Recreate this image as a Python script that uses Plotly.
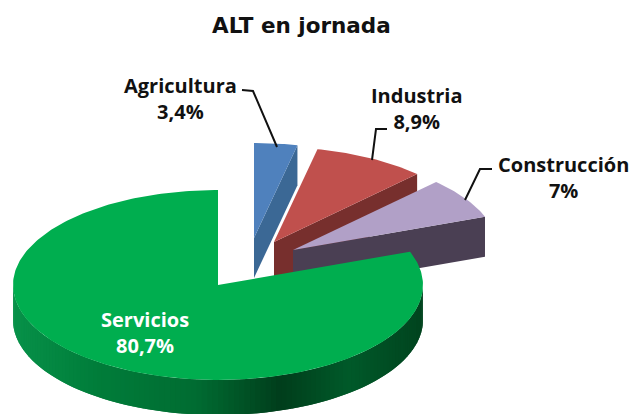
import numpy as np
import plotly.graph_objects as go

# Data
categories = ["Agricultura", "Industria", "Construcción", "Servicios"]
shares = [3.4, 8.9, 7.0, 80.7]
share_labels = ["3,4%", "8,9%", "7%", "80,7%"]
title_text = "ALT en jornada"

# Styling / layout (pixel space of the 631x414 canvas)
top_colors = ["#4F81BD", "#C0504D", "#B1A0C7", "#00AE4F"]
wall_colors = ["#3B6895", "#772F2D", "#4A3F53", "#00602C"]
apexes = [(254, 238), (274, 242), (293, 250), (218, 285)]
RX, RY = 205, 95
depths = [40, 40, 40, 35]
label_pos = [(180, 98), (416, 108), (563, 177), (145, 332)]
label_colors = ["#111111", "#111111", "#111111", "#FFFFFF"]
leaders = [
    [(242, 90), (253, 91), (277, 147)],
    [(387, 129), (376, 129), (372, 160)],
    [(492, 169), (480, 169), (465, 200)],
]
grad_x = [12, 100, 200, 283, 350, 423]
grad_rgb = np.array([[8, 146, 74], [0, 125, 58], [0, 108, 50], [0, 62, 28], [0, 90, 42], [0, 68, 31]])


def pt(apex, deg, depth=0):
    t = np.radians(deg)
    return apex[0] + RX * np.sin(t), apex[1] - RY * np.cos(t) + depth


def poly(fig, xs, ys, color, name):
    fig.add_trace(go.Scatter(x=list(xs), y=list(ys), mode="lines", fill="toself", fillcolor=color,
                             line=dict(color=color, width=0), hoverinfo="skip",
                             showlegend=False, name=name))


fig = go.Figure()
angles = np.concatenate([[0], np.cumsum(shares) * 3.6])

for i, cat in enumerate(categories):
    a0, a1 = angles[i], angles[i + 1]
    apex, d = apexes[i], depths[i]
    arc = np.linspace(a0, a1, max(24, int(a1 - a0)))
    if i < 3:
        # visible radial wall on the closing edge of the wedge
        ex, ey = pt(apex, a1)
        poly(fig, [apex[0], ex, ex, apex[0], apex[0]], [apex[1], ey, ey + d, apex[1] + d, apex[1]], wall_colors[i], cat)
    else:
        # shaded outer wall of the large wedge, drawn as overlapping strips
        front = np.linspace(90, 270, 121)
        for k in range(len(front) - 1):
            b0, b1 = front[k], front[min(k + 2, len(front) - 1)]
            xs0 = np.linspace(b0, b1, 4)
            xa, ya = pt(apex, xs0)
            xm = pt(apex, front[k])[0]
            rgb = [int(np.interp(xm, grad_x, grad_rgb[:, c])) for c in range(3)]
            poly(fig, np.r_[xa, xa[::-1], xa[0]], np.r_[ya, (ya + d)[::-1], ya[0]],
                 f"rgb({rgb[0]},{rgb[1]},{rgb[2]})", cat)
    xs, ys = pt(apex, arc)
    poly(fig, np.r_[apex[0], xs, apex[0]], np.r_[apex[1], ys, apex[1]], top_colors[i], cat)

# Leader lines
shapes = []
for pts in leaders:
    path = "M " + " L ".join(f"{x},{y}" for x, y in pts)
    shapes.append(dict(type="path", path=path, xref="x", yref="y", line=dict(color="#111111", width=2)))

# Labels
annotations = []
for i, cat in enumerate(categories):
    x, y = label_pos[i]
    annotations.append(dict(x=x, y=y, xref="x", yref="y", showarrow=False, align="center",
                            text=f"<b>{cat}</b><br><b>{share_labels[i]}</b>",
                            font=dict(family="Open Sans", size=20, color=label_colors[i])))
annotations.append(dict(x=301, y=25, xref="x", yref="y", showarrow=False,
                        text=f"<b>{title_text}</b>",
                        font=dict(family="DejaVu Sans", size=21.5, color="#111111")))

fig.update_layout(
    width=631, height=414, margin=dict(l=0, r=0, t=0, b=0),
    paper_bgcolor="white", plot_bgcolor="white", showlegend=False,
    xaxis=dict(range=[0, 631], visible=False, fixedrange=True),
    yaxis=dict(range=[414, 0], visible=False, fixedrange=True),
    shapes=shapes, annotations=annotations,
)
fig.write_html("out.html", config={"displayModeBar": False},
               post_script="document.body.style.margin='0';document.documentElement.style.overflow='hidden';")
